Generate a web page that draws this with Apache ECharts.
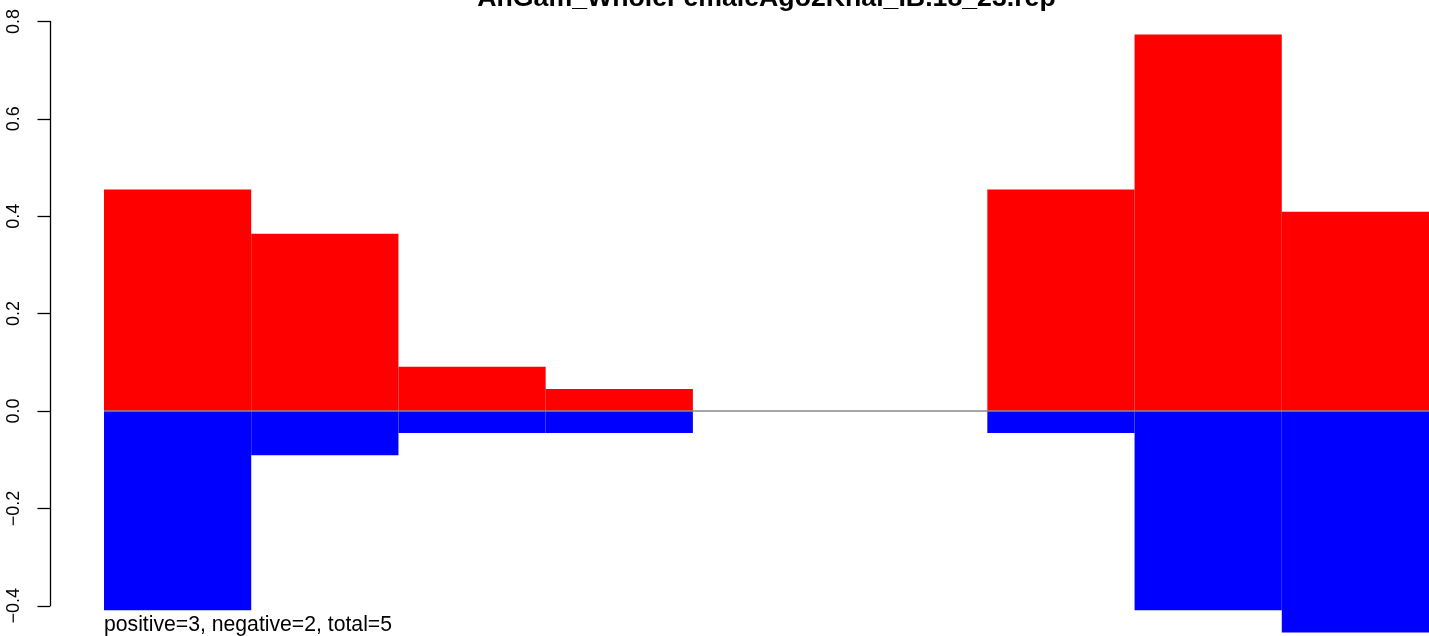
<!DOCTYPE html>
<html>
<head>
<meta charset="utf-8">
<script src="https://cdn.jsdelivr.net/npm/echarts@6/dist/echarts.min.js"></script>
<style>
html,body{margin:0;padding:0;background:#fff;}
#chart{width:1429px;height:636px;}
</style>
</head>
<body>
<div id="chart"></div>
<script>
// ---- data ----
var titleText = 'AnGam_WholeFemaleAgo2Khai_IB.18_23.rep';
var subText = 'positive=3, negative=2, total=5';
var categories = ['1','2','3','4','5','6','7','8','9'];
var positiveValues = [0.455, 0.364, 0.091, 0.045, 0, 0, 0.455, 0.773, 0.409];
var negativeValues = [-0.409, -0.091, -0.045, -0.045, 0, 0, -0.045, -0.409, -0.455];
var yTickLabels = ['\u22120.4', '\u22120.2', '0.0', '0.2', '0.4', '0.6', '0.8'];

// ---- layout ----
var W = 1429, H = 636;
var zeroY = 411;        // pixel of value 0
var pxPerUnit = 487;    // pixels per unit
var FONT = '"Liberation Sans", Arial, Helvetica, sans-serif';

var chart = echarts.init(document.getElementById('chart'), null, {renderer: 'canvas', width: W, height: H});

var axisTop = zeroY - 0.8 * pxPerUnit;
var axisH = 1.2 * pxPerUnit;
// bar grid fills the full canvas height; its value range follows the same pixel scale
var barMax = zeroY / pxPerUnit;
var barMin = -(H - zeroY) / pxPerUnit;

var option = {
  animation: false,
  backgroundColor: '#ffffff',
  grid: [
    {left: 50, top: axisTop, width: 1379, height: axisH, containLabel: false, outerBoundsMode: 'none'},
    {left: 104, top: 0, width: 1325, height: H, containLabel: false, outerBoundsMode: 'none'}
  ],
  xAxis: [
    {gridIndex: 0, type: 'value', show: false, min: 0, max: 1},
    {gridIndex: 1, type: 'category', data: categories, show: false, boundaryGap: true}
  ],
  yAxis: [
    {
      gridIndex: 0, type: 'value', min: -0.4, max: 0.8, interval: 0.2,
      axisLine: {show: true, onZero: false, lineStyle: {color: '#000', width: 1.3}},
      axisTick: {show: true, length: 12.5, lineStyle: {color: '#000', width: 1.3}},
      splitLine: {show: false},
      axisLabel: {
        show: true, rotate: 90, margin: 26.5, fontSize: 18, color: '#000', fontFamily: FONT,
        formatter: function (v, i) { return yTickLabels[i]; }
      }
    },
    {gridIndex: 1, type: 'value', min: barMin, max: barMax, show: false}
  ],
  series: [
    {
      type: 'line', xAxisIndex: 1, yAxisIndex: 1, data: [], z: 1, silent: true,
      markLine: {
        silent: true, symbol: ['none', 'none'], label: {show: false},
        lineStyle: {color: '#8a8a8a', width: 1.6, type: 'solid'},
        data: [{yAxis: 0}]
      }
    },
    {
      type: 'bar', xAxisIndex: 1, yAxisIndex: 1, data: positiveValues, z: 2,
      barWidth: '100%', barGap: '-100%', silent: true,
      itemStyle: {color: '#ff0000', borderWidth: 0}
    },
    {
      type: 'bar', xAxisIndex: 1, yAxisIndex: 1, data: negativeValues, z: 2,
      barWidth: '100%', barGap: '-100%', silent: true,
      itemStyle: {color: '#0000ff', borderWidth: 0}
    }
  ],
  graphic: [
    {
      type: 'text', x: 766.5, y: -1.5, z: 10,
      style: {text: titleText, font: 'bold 26.7px ' + FONT, fill: '#000', textAlign: 'center', textVerticalAlign: 'middle'}
    },
    {
      type: 'text', x: 104, y: 624.8, z: 10,
      style: {text: subText, font: '21.2px ' + FONT, fill: '#000', textAlign: 'left', textVerticalAlign: 'middle'}
    }
  ]
};
chart.setOption(option);
</script>
</body>
</html>
